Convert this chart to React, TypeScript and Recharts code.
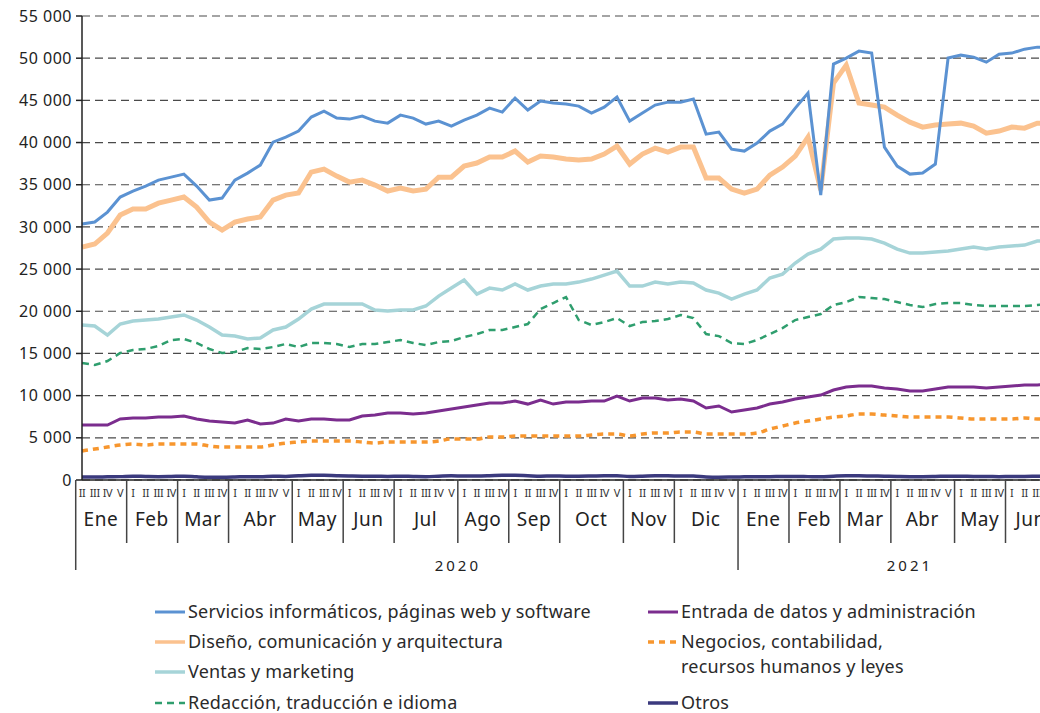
import React from "react"
import { LineChart, Line, XAxis, YAxis, CartesianGrid } from "recharts"

// week labels, Ene 2020 (from week II) to Jun 2021
const monthNames = ["Ene", "Feb", "Mar", "Abr", "May", "Jun", "Jul", "Ago", "Sep", "Oct", "Nov", "Dic", "Ene", "Feb", "Mar", "Abr", "May", "Jun"]
const weekLabels = [
  "II", "III", "IV", "V",
  "I", "II", "III", "IV",
  "I", "II", "III", "IV",
  "I", "II", "III", "IV", "V",
  "I", "II", "III", "IV",
  "I", "II", "III", "IV",
  "I", "II", "III", "IV", "V",
  "I", "II", "III", "IV",
  "I", "II", "III", "IV",
  "I", "II", "III", "IV", "V",
  "I", "II", "III", "IV",
  "I", "II", "III", "IV", "V",
  "I", "II", "III", "IV",
  "I", "II", "III", "IV",
  "I", "II", "III", "IV",
  "I", "II", "III", "IV", "V",
  "I", "II", "III", "IV",
  "I", "II", "III", "IV",
]
const yearLabels = ["2020", "2021"]

const servicios = [
  30340, 30580, 31760, 33540, 34250, 34840, 35550, 35900, 36260, 34840, 33180, 33420, 35550, 36380, 37330, 40050, 40650,
  41360, 43020, 43730, 42900, 42780, 43130, 42540, 42300, 43250, 42900, 42190, 42540, 41950, 42660, 43250, 44080, 43610,
  45270, 43850, 44910, 44680, 44560, 44320, 43490, 44200, 45390, 42540, 43490, 44440, 44790, 44790, 45150, 41000, 41240,
  39220, 38990, 39930, 41360, 42190, 44080, 45860, 33770, 49300, 50010, 50840, 50600, 39460, 37210, 36260, 36380, 37450,
  50010, 50360, 50130, 49530, 50480, 50600, 51070, 51310, 51300,
]
const diseno = [
  27610, 27970, 29270, 31400, 32110, 32110, 32820, 33180, 33540, 32350, 30580, 29630, 30580, 30930, 31170, 33180, 33770,
  34010, 36500, 36850, 36020, 35310, 35550, 34960, 34250, 34600, 34250, 34480, 35900, 35900, 37210, 37570, 38280, 38280,
  38990, 37690, 38400, 38280, 38040, 37920, 38040, 38630, 39580, 37450, 38630, 39340, 38870, 39460, 39460, 35790, 35790,
  34480, 34010, 34480, 36140, 37090, 38400, 40650, 34370, 47040, 49180, 44680, 44440, 44200, 43250, 42420, 41830, 42070,
  42190, 42300, 41950, 41120, 41360, 41830, 41710, 42300, 42300,
]
const ventas = [
  18370, 18250, 17180, 18490, 18840, 18960, 19080, 19320, 19560, 18960, 18130, 17180, 17060, 16710, 16830, 17780, 18130,
  19080, 20260, 20860, 20860, 20860, 20860, 20150, 20030, 20150, 20150, 20620, 21800, 22750, 23700, 22040, 22750, 22520,
  23230, 22520, 22990, 23230, 23230, 23460, 23820, 24290, 24770, 22990, 22990, 23460, 23230, 23460, 23350, 22520, 22160,
  21450, 22040, 22520, 23940, 24410, 25720, 26780, 27370, 28560, 28680, 28680, 28560, 28080, 27370, 26900, 26900, 27020,
  27140, 27370, 27610, 27370, 27610, 27730, 27850, 28320, 28320,
]
const redaccion = [
  13870, 13630, 14100, 15050, 15410, 15530, 15880, 16590, 16710, 16240, 15530, 15050, 15170, 15640, 15530, 15760, 16120,
  15760, 16240, 16240, 16120, 15760, 16120, 16120, 16350, 16590, 16240, 16000, 16350, 16470, 16950, 17300, 17780, 17780,
  18130, 18490, 20260, 20980, 21690, 18960, 18370, 18720, 19200, 18250, 18720, 18840, 19080, 19560, 19200, 17300, 17060,
  16240, 16120, 16590, 17300, 18010, 18960, 19320, 19670, 20740, 21090, 21690, 21570, 21450, 21090, 20740, 20500, 20860,
  20980, 20980, 20740, 20620, 20620, 20620, 20620, 20740, 20860,
]
const entrada = [
  6520, 6520, 6520, 7230, 7350, 7350, 7470, 7470, 7590, 7230, 6990, 6870, 6750, 7110, 6640, 6750, 7230,
  6990, 7230, 7230, 7110, 7110, 7590, 7700, 7940, 7940, 7820, 7940, 8180, 8410, 8650, 8890, 9120, 9120,
  9360, 9000, 9480, 9000, 9240, 9240, 9360, 9360, 9950, 9360, 9720, 9720, 9480, 9600, 9360, 8530, 8770,
  8060, 8300, 8530, 9000, 9240, 9600, 9840, 10070, 10670, 11020, 11140, 11140, 10900, 10780, 10550, 10550, 10780,
  11020, 11020, 11020, 10900, 11020, 11140, 11260, 11260, 11380,
]
const negocios = [
  3440, 3670, 3910, 4150, 4270, 4150, 4270, 4270, 4270, 4270, 4030, 3910, 3910, 3910, 3910, 4150, 4380,
  4500, 4620, 4620, 4620, 4620, 4500, 4380, 4500, 4500, 4500, 4500, 4620, 4860, 4860, 4860, 5100, 5100,
  5210, 5210, 5210, 5210, 5210, 5210, 5330, 5450, 5450, 5210, 5450, 5570, 5570, 5690, 5690, 5450, 5450,
  5450, 5450, 5570, 6040, 6400, 6750, 6990, 7230, 7470, 7590, 7820, 7820, 7700, 7590, 7470, 7470, 7470,
  7470, 7350, 7230, 7230, 7230, 7230, 7350, 7230, 7230,
]
const otros = [
  350, 350, 380, 400, 450, 420, 400, 420, 450, 380, 330, 320, 350, 400, 400, 450, 420,
  500, 550, 550, 500, 470, 450, 450, 420, 450, 420, 400, 450, 500, 470, 470, 500, 550,
  550, 500, 450, 470, 450, 450, 470, 500, 500, 420, 450, 500, 500, 470, 470, 350, 330,
  350, 380, 400, 400, 420, 420, 400, 380, 450, 500, 500, 470, 450, 420, 400, 400, 420,
  450, 450, 420, 420, 400, 420, 420, 450, 470,
]

const yTicks = [0, 5000, 10000, 15000, 20000, 25000, 30000, 35000, 40000, 45000, 50000, 55000]

const data = weekLabels.map((w, i) => ({
  i,
  week: w,
  servicios: servicios[i],
  diseno: diseno[i],
  ventas: ventas[i],
  redaccion: redaccion[i],
  entrada: entrada[i],
  negocios: negocios[i],
  otros: otros[i],
}))

// month of each week: a new month starts at every "I" (first month starts at "II")
const monthOf: number[] = []
const monthStart: Record<number, number> = {}
let m = -1
weekLabels.forEach((w, i) => {
  if (i === 0 || w === "I") {
    m++
    monthStart[i] = m
  }
  monthOf.push(m)
})
const monthLen = monthNames.map((_, k) => monthOf.filter((x) => x === k).length)

// layout
const CHART_W = 1060
const CHART_H = 590
const MARGIN = { top: 16, right: 10, left: 0, bottom: 0 }
const Y_W = 82
const X_H = 110
const PLOT_BOTTOM = CHART_H - X_H
const BAND = (CHART_W - Y_W - MARGIN.left - MARGIN.right) / weekLabels.length
const FONT = '"Noto Sans", sans-serif'
const yearLabelPos = [
  { tick: 30, dx: -BAND / 2 },
  { tick: 65, dx: 0 },
]

const series = [
  { key: "otros", name: "Otros", color: "#3b3a7e", width: 3.5, type: "monotone" },
  { key: "negocios", name: "Negocios, contabilidad,\nrecursos humanos y leyes", color: "#f7962e", width: 3.5, dash: "6 5", type: "monotone" },
  { key: "entrada", name: "Entrada de datos y administración", color: "#7b2d8e", width: 3, type: "linear" },
  { key: "redaccion", name: "Redacción, traducción e idioma", color: "#2f9e6e", width: 2.5, dash: "7 5", type: "linear" },
  { key: "ventas", name: "Ventas y marketing", color: "#a6d4d8", width: 3.5, type: "linear" },
  { key: "diseno", name: "Diseño, comunicación y arquitectura", color: "#fbc28f", width: 5, type: "linear" },
  { key: "servicios", name: "Servicios informáticos, páginas web y software", color: "#5b92d2", width: 3, type: "linear" },
]

const fmt = (v: number) => (v === 0 ? "0" : `${Math.floor(v / 1000)} 000`)

function AxisTick(props: any) {
  const { x, payload } = props
  const i = Number(payload.value)
  const left = x - BAND / 2
  const mi = monthStart[i]
  const isYearStart = i === 0 || (mi !== undefined && monthNames[mi] === "Ene")
  const yl = yearLabelPos.findIndex((p) => p.tick === i)
  return (
    <g>
      <text x={x} y={PLOT_BOTTOM + 17} textAnchor="middle" fontSize={11} fill="#333" fontFamily={FONT} letterSpacing={-0.4}>
        {weekLabels[i]}
      </text>
      {mi !== undefined && (
        <>
          <line x1={left} x2={left} y1={PLOT_BOTTOM} y2={PLOT_BOTTOM + (isYearStart ? 90 : 63)} stroke="#444" strokeWidth={1.5} />
          <text x={left + (monthLen[mi] * BAND) / 2} y={PLOT_BOTTOM + 46} textAnchor="middle" fontSize={19} fill="#222" fontFamily={FONT} letterSpacing={0.5}>
            {monthNames[mi]}
          </text>
        </>
      )}
      {yl >= 0 && (
        <text x={x + yearLabelPos[yl].dx} y={PLOT_BOTTOM + 91} textAnchor="middle" fontSize={15} fill="#222" fontFamily={FONT} letterSpacing={3}>
          {yearLabels[yl]}
        </text>
      )}
    </g>
  )
}

function LegendItem({ s, x, y }: { s: any; x: number; y: number }) {
  const lines = s.name.split("\n")
  return (
    <div style={{ position: "absolute", left: x, top: y - 13, display: "flex", alignItems: "flex-start" }}>
      <svg width={32} height={26} style={{ flex: "none" }}>
        <line x1={1} x2={31} y1={13} y2={13} stroke={s.color} strokeWidth={Math.min(s.width, 3.5)} strokeDasharray={s.dash} />
      </svg>
      <div style={{ marginLeft: 2, fontSize: 18, letterSpacing: 0.2, lineHeight: "25px", color: "#2a2a2a", whiteSpace: "nowrap" }}>
        {lines.map((l: string, k: number) => (
          <div key={k}>{l}</div>
        ))}
      </div>
    </div>
  )
}

export default function App() {
  const byKey = (k: string) => series.find((s) => s.key === k)!
  return (
    <div style={{ position: "fixed", left: 0, top: 0, width: 1040, height: 713, overflow: "hidden", background: "#fff", fontFamily: FONT }}>
      <LineChart width={CHART_W} height={CHART_H} data={data} margin={MARGIN}>
        <CartesianGrid horizontal vertical={false} stroke="#4a4a4a" strokeDasharray="8 5" strokeWidth={1.2} />
        <XAxis
          dataKey="i"
          interval={0}
          height={X_H}
          tickLine={false}
          axisLine={{ stroke: "#222", strokeWidth: 1.5 }}
          tick={(p: any) => <AxisTick {...p} />}
        />
        <YAxis
          width={Y_W}
          domain={[0, 55000]}
          ticks={yTicks}
          interval={0}
          tickFormatter={fmt}
          tickSize={6}
          tickMargin={4}
          tickLine={{ stroke: "#222", strokeWidth: 1.5 }}
          axisLine={{ stroke: "#222", strokeWidth: 1.5 }}
          tick={{ fontSize: 16, fill: "#222", fontFamily: FONT, letterSpacing: 0.5 }}
        />
        {series.map((s) => (
          <Line
            key={s.key}
            dataKey={s.key}
            type={s.type as any}
            stroke={s.color}
            strokeWidth={s.width}
            strokeDasharray={s.dash}
            dot={false}
            activeDot={false}
            isAnimationActive={false}
          />
        ))}
      </LineChart>
      <LegendItem s={byKey("servicios")} x={154} y={612} />
      <LegendItem s={byKey("diseno")} x={154} y={642} />
      <LegendItem s={byKey("ventas")} x={154} y={672} />
      <LegendItem s={byKey("redaccion")} x={154} y={703} />
      <LegendItem s={byKey("entrada")} x={647} y={612} />
      <LegendItem s={byKey("negocios")} x={647} y={642} />
      <LegendItem s={byKey("otros")} x={647} y={703} />
    </div>
  )
}
